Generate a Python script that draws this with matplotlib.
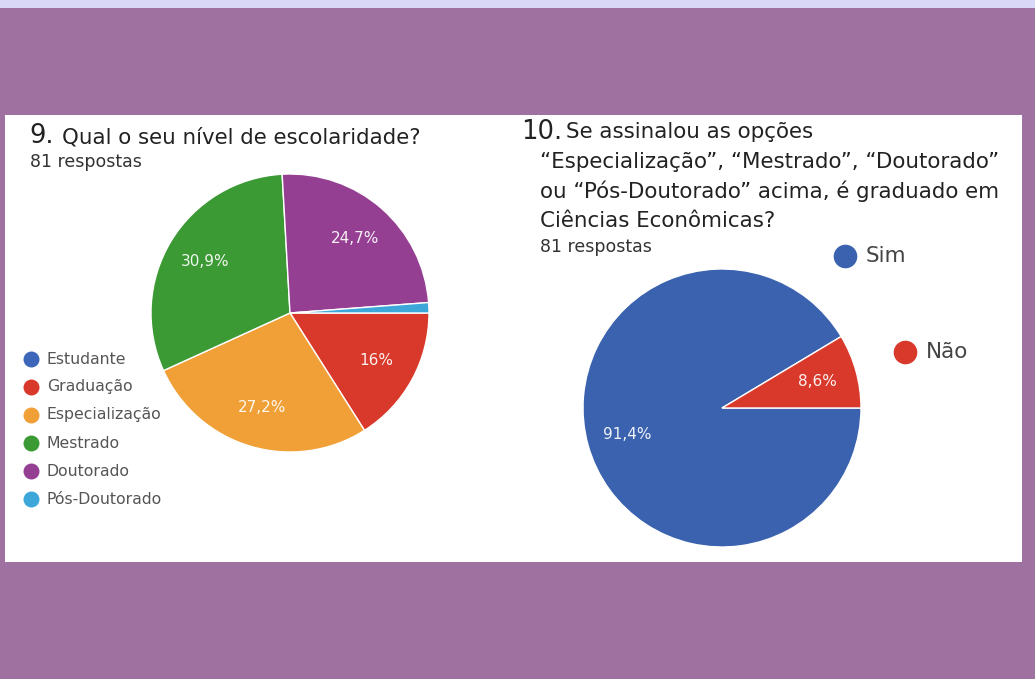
import matplotlib.pyplot as plt

# Q9: education level (81 responses)
levels = ["Estudante", "Graduação", "Especialização", "Mestrado", "Doutorado", "Pós-Doutorado"]
level_pct = [0.0, 16.0, 27.2, 30.9, 24.7, 1.2]
level_colors = ["#3c66b8", "#d9392b", "#f0a036", "#3c9a35", "#943f92", "#3ea7d9"]

# Q10: graduated in economics (81 responses)
answers = ["Sim", "Não"]
answer_pct = [91.4, 8.6]
answer_colors = ["#3a62ae", "#d9392b"]

W, H = 1035, 679
BG = "#9f71a0"
FONT = "DejaVu Sans"


def pct_label(pct):
    if pct < 5:
        return ""
    s = f"{pct:.1f}".replace(".", ",")
    if s.endswith(",0"):
        s = s[:-2]
    return s + "%"


def pie_axes(fig, cx, cy, r):
    # square axes in pixel units, y measured from the top
    ax = fig.add_axes([(cx - r) / W, (H - cy - r) / H, 2 * r / W, 2 * r / H])
    ax.set_facecolor("none")
    return ax


def draw_pie(ax, values, colors):
    wedges, texts, autotexts = ax.pie(
        values, colors=colors, startangle=0, counterclock=False,
        autopct=pct_label, pctdistance=0.71, radius=1.0,
        wedgeprops=dict(edgecolor="white", linewidth=1.0),
        textprops=dict(color="white", fontsize=11, family=FONT),
    )
    for t in autotexts:
        t.set_alpha(0.92)
    ax.set_xlim(-1, 1)
    ax.set_ylim(-1, 1)
    ax.set_aspect("equal")
    ax.axis("off")
    return wedges


fig = plt.figure(figsize=(W / 100, H / 100), dpi=100)
fig.patch.set_facecolor(BG)

# page background, panel and text, in pixel coordinates
page = fig.add_axes([0, 0, 1, 1], zorder=0)
page.set_xlim(0, W)
page.set_ylim(H, 0)
page.axis("off")
page.add_patch(plt.Rectangle((0, 0), W, 8, facecolor="#d9d9f7", edgecolor="none"))
page.add_patch(plt.Rectangle((5, 115), 1017, 447, facecolor="white", edgecolor="none"))

dark = "#222222"
title_size = 15.4
page.text(29, 143, "9.", fontsize=18.5, color=dark, family=FONT, va="baseline")
page.text(62, 143, "Qual o seu nível de escolaridade?", fontsize=title_size, color=dark,
          family=FONT, va="baseline")
page.text(30, 167, "81 respostas", fontsize=12.5, color="#333333", family=FONT, va="baseline")

page.text(521, 139, "10.", fontsize=18.5, color=dark, family=FONT, va="baseline")
page.text(566, 138, "Se assinalou as opções", fontsize=title_size, color=dark, family=FONT,
          va="baseline")
q10_lines = [
    "“Especialização”, “Mestrado”, “Doutorado”",
    "ou “Pós-Doutorado” acima, é graduado em",
    "Ciências Econômicas?",
]
for i, line in enumerate(q10_lines):
    page.text(540, 168 + 29.5 * i, line, fontsize=title_size, color=dark, family=FONT,
              va="baseline")
page.text(540, 252, "81 respostas", fontsize=12.5, color="#333333", family=FONT,
          va="baseline")

# legend for Q9
for i, (name, col) in enumerate(zip(levels, level_colors)):
    y = 359 + 28 * i
    page.plot(30.5, y, "o", markersize=11.5, color=col, markeredgewidth=0)
    page.text(47, y, name, fontsize=11.3, color="#555555", family=FONT, va="center")

# legend for Q10
for (name, col), (x, y) in zip(zip(answers, answer_colors), [(845, 256), (905, 352)]):
    page.plot(x, y, "o", markersize=17, color=col, markeredgewidth=0)
    page.text(x + 21, y, name, fontsize=15.5, color="#444444", family=FONT, va="center")

ax1 = pie_axes(fig, 290, 313, 139)
draw_pie(ax1, level_pct, level_colors)

ax2 = pie_axes(fig, 722, 408, 139)
draw_pie(ax2, answer_pct, answer_colors)

fig.savefig("out.png", dpi=100, facecolor=fig.get_facecolor())
